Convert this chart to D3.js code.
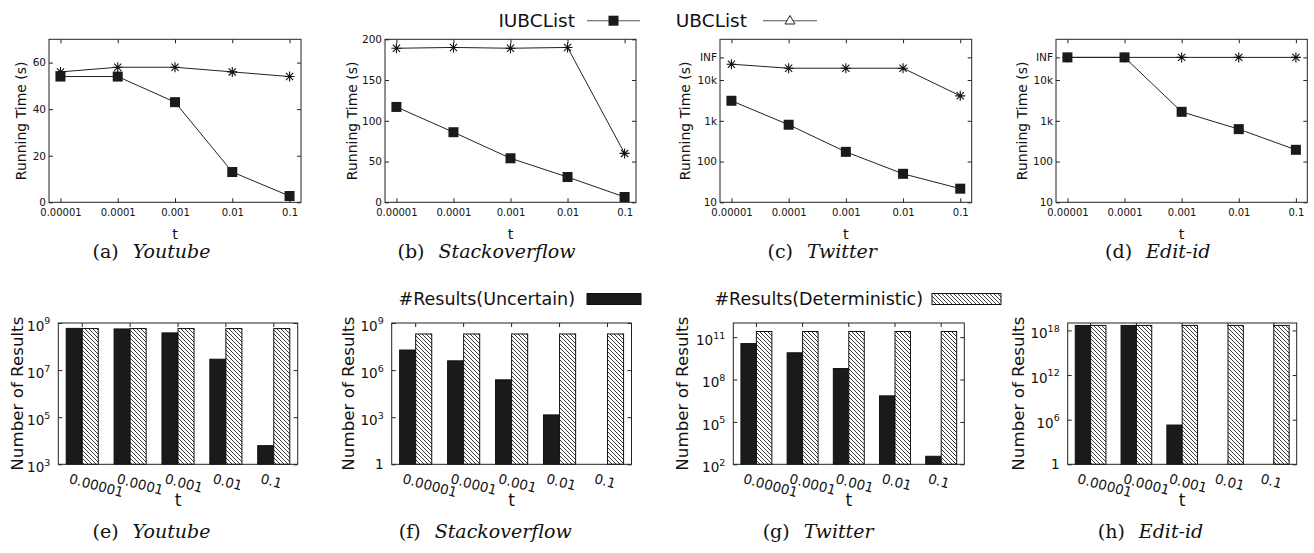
<!DOCTYPE html>
<html>
<head>
<meta charset="utf-8">
<script src="https://cdn.jsdelivr.net/npm/d3@7"></script>
<style>
  body { margin: 0; background: #fff; }
  svg { display: block; }
  text { font-family: "DejaVu Sans", sans-serif; fill: #111; }
  .cap { font-family: "DejaVu Serif", serif; }
</style>
</head>
<body>
<svg id="fig" width="1314" height="553"></svg>
<script>
// x categories (threshold t)
const tValues = ['0.00001', '0.0001', '0.001', '0.01', '0.1'];

// running time (s), top row
const INF = 36000;
const timeYoutubeIUBC = [54, 54, 43, 13, 2.7];
const timeYoutubeUBC = [56, 58, 58, 56, 54];
const timeStackIUBC = [117, 86, 54, 31, 6.5];
const timeStackUBC = [189, 190, 189, 190, 60];
const timeTwitterIUBC = [3100, 800, 173, 50, 21.6];
const timeTwitterUBC = [24500, 19500, 19500, 19500, 4100];
const timeEditIUBC = [INF, INF, 1660, 624, 194];
const timeEditUBC = [INF, INF, INF, INF, INF];

const youtubeTimeTicks = [0, 20, 40, 60];
const stackTimeTicks = [0, 50, 100, 150, 200];
const logTimeTicks = [10, 100, 1000, 10000, INF];
const logTimeTickLabels = ['10', '100', '1k', '10k', 'INF'];

// number of results, bottom row (null = no bar)
const resYoutubeUnc = [5.9e8, 5.6e8, 3.8e8, 2.9e7, 6.2e3];
const resYoutubeDet = [5.8e8, 5.8e8, 5.8e8, 5.8e8, 5.8e8];
const resStackUnc = [1.9e7, 3.9e6, 2.4e5, 1.4e3, null];
const resStackDet = [2e8, 2e8, 2e8, 2e8, 2e8];
const resTwitterUnc = [3.5e10, 7.8e9, 6e8, 7e6, 370];
const resTwitterDet = [2.5e11, 2.5e11, 2.5e11, 2.5e11, 2.5e11];
const resEditUnc = [4.7e18, 4.7e18, 1.9e5, null, null];
const resEditDet = [4.7e18, 4.7e18, 4.7e18, 4.7e18, 4.7e18];

const youtubeResTicks = [1e3, 1e5, 1e7, 1e9];
const stackResTicks = [1, 1e3, 1e6, 1e9];
const twitterResTicks = [1e2, 1e5, 1e8, 1e11];
const editResTicks = [1, 1e6, 1e12, 1e18];

const svg = d3.select('#fig');
const ink = '#1a1a1a';

// hatch pattern for deterministic bars
const defs = svg.append('defs');
const pat = defs.append('pattern')
  .attr('id', 'hatch')
  .attr('patternUnits', 'userSpaceOnUse')
  .attr('width', 4).attr('height', 4);
pat.append('rect').attr('width', 4).attr('height', 4).attr('fill', '#fff');
pat.append('path')
  .attr('d', 'M-1,-1L5,5M3,-1L5,1M-1,3L1,5')
  .attr('stroke', '#222').attr('stroke-width', 0.9);

const starPath = 'M-5,0H5M0,-5V5M-3.6,-3.6L3.6,3.6M-3.6,3.6L3.6,-3.6';

function caption(cx, y, tag, name) {
  const t = svg.append('text').attr('class', 'cap')
    .attr('x', cx).attr('y', y)
    .attr('text-anchor', 'middle')
    .attr('font-size', 19);
  t.append('tspan').text(tag);
  t.append('tspan').attr('dx', 14).attr('font-style', 'italic').text(name);
}

// ---------- top row: running time ----------
const TOP_Y0 = 39.3, TOP_Y1 = 202.3;

const topPanels = [
  { x0: 49, x1: 301, iubc: timeYoutubeIUBC, ubc: timeYoutubeUBC, log: false, domain: [0, 70], ticks: youtubeTimeTicks, labels: null, titleOff: 28.3, tag: '(a)', name: 'Youtube' },
  { x0: 385, x1: 636, iubc: timeStackIUBC, ubc: timeStackUBC, log: false, domain: [0, 200], ticks: stackTimeTicks, labels: null, titleOff: 33.3, tag: '(b)', name: 'Stackoverflow' },
  { x0: 720, x1: 971.7, iubc: timeTwitterIUBC, ubc: timeTwitterUBC, log: true, domain: [10, 1e5], ticks: logTimeTicks, labels: logTimeTickLabels, titleOff: 35, tag: '(c)', name: 'Twitter' },
  { x0: 1056, x1: 1307.3, iubc: timeEditIUBC, ubc: timeEditUBC, log: true, domain: [10, 1e5], ticks: logTimeTicks, labels: logTimeTickLabels, titleOff: 34.3, tag: '(d)', name: 'Edit-id' }
];

topPanels.forEach(p => {
  const g = svg.append('g');
  const x = d3.scalePoint().domain(tValues).range([p.x0, p.x1]).padding(0.2);
  const y = (p.log ? d3.scaleLog() : d3.scaleLinear()).domain(p.domain).range([TOP_Y1, TOP_Y0]);
  const fmt = p.labels ? (d, i) => p.labels[i] : d => d;

  g.append('g').attr('transform', `translate(${p.x0},0)`)
    .call(d3.axisLeft(y).tickValues(p.ticks).tickFormat(fmt).tickSize(-4).tickPadding(3))
    .call(a => a.select('.domain').remove())
    .call(a => a.selectAll('text').attr('font-size', 10.5).attr('font-family', null));
  g.append('g').attr('transform', `translate(${p.x1},0)`)
    .call(d3.axisRight(y).tickValues(p.ticks).tickFormat('').tickSize(-4))
    .call(a => a.select('.domain').remove());
  g.append('g').attr('transform', `translate(0,${TOP_Y1})`)
    .call(d3.axisBottom(x).tickSize(-4).tickPadding(6.5))
    .call(a => a.select('.domain').remove())
    .call(a => a.selectAll('text').attr('font-size', 10).attr('font-family', null));
  g.append('g').attr('transform', `translate(0,${TOP_Y0})`)
    .call(d3.axisTop(x).tickFormat('').tickSize(-4))
    .call(a => a.select('.domain').remove());
  g.selectAll('.tick line').attr('stroke', '#222');

  g.append('rect')
    .attr('x', p.x0).attr('y', TOP_Y0)
    .attr('width', p.x1 - p.x0).attr('height', TOP_Y1 - TOP_Y0)
    .attr('fill', 'none').attr('stroke', '#222').attr('stroke-width', 1);

  const line = d3.line().x((d, i) => x(tValues[i])).y(d => y(d));

  g.append('path').datum(p.ubc).attr('d', line)
    .attr('fill', 'none').attr('stroke', '#222').attr('stroke-width', 1);
  g.selectAll('.star').data(p.ubc).enter().append('path')
    .attr('transform', (d, i) => `translate(${x(tValues[i])},${y(d)})`)
    .attr('d', starPath).attr('stroke', '#111').attr('stroke-width', 1.1).attr('fill', 'none');

  g.append('path').datum(p.iubc).attr('d', line)
    .attr('fill', 'none').attr('stroke', '#222').attr('stroke-width', 1);
  g.selectAll('.sq').data(p.iubc).enter().append('rect')
    .attr('x', (d, i) => x(tValues[i]) - 5).attr('y', d => y(d) - 5)
    .attr('width', 10).attr('height', 10).attr('fill', ink);

  g.append('text')
    .attr('transform', `translate(${p.x0 - p.titleOff},${(TOP_Y0 + TOP_Y1) / 2}) rotate(-90)`)
    .attr('text-anchor', 'middle').attr('dominant-baseline', 'central')
    .attr('font-size', 14).text('Running Time (s)');
  g.append('text')
    .attr('x', (p.x0 + p.x1) / 2).attr('y', 238.5)
    .attr('text-anchor', 'middle').attr('font-size', 14.5).text('t');

  caption(p.x1 - 149.5, 258, p.tag, p.name);
});

// top legend
const lg = svg.append('g').attr('font-size', 18.5);
lg.append('text').attr('x', 575).attr('y', 20.7).attr('dominant-baseline', 'central')
  .attr('text-anchor', 'end').text('IUBCList');
lg.append('line').attr('x1', 587).attr('x2', 640).attr('y1', 20.7).attr('y2', 20.7)
  .attr('stroke', '#555').attr('stroke-width', 1.1);
lg.append('rect').attr('x', 608.5).attr('y', 15.7).attr('width', 10).attr('height', 10).attr('fill', ink);
lg.append('text').attr('x', 747).attr('y', 20.7).attr('dominant-baseline', 'central')
  .attr('text-anchor', 'end').text('UBCList');
lg.append('line').attr('x1', 763).attr('x2', 817).attr('y1', 20.7).attr('y2', 20.7)
  .attr('stroke', '#555').attr('stroke-width', 1.1);
lg.append('path').attr('d', 'M790,15.5L795,24L785,24Z')
  .attr('fill', '#fff').attr('stroke', '#222').attr('stroke-width', 1);

// ---------- bottom row: number of results ----------
const BOT_Y0 = 323, BOT_Y1 = 464.3;

const botPanels = [
  { x0: 58.3, x1: 297.7, unc: resYoutubeUnc, det: resYoutubeDet, domain: [1e3, 1e9], ticks: youtubeResTicks, titleOff: 41.6, tag: '(e)', name: 'Youtube' },
  { x0: 391.7, x1: 631.5, unc: resStackUnc, det: resStackDet, domain: [1, 1e9], ticks: stackResTicks, titleOff: 43.4, tag: '(f)', name: 'Stackoverflow' },
  { x0: 733.3, x1: 964.3, unc: resTwitterUnc, det: resTwitterDet, domain: [1e2, 1e12], ticks: twitterResTicks, titleOff: 51.6, tag: '(g)', name: 'Twitter' },
  { x0: 1067.7, x1: 1296.7, unc: resEditUnc, det: resEditDet, domain: [1, 1e19], ticks: editResTicks, titleOff: 49.4, tag: '(h)', name: 'Edit-id' }
];

botPanels.forEach(p => {
  const g = svg.append('g');
  const x = d3.scaleBand().domain(tValues).range([p.x0, p.x1]).padding(0);
  const sub = d3.scaleBand().domain(['unc', 'det']).range([-0.335 * x.step(), 0.335 * x.step()]);
  const y = d3.scaleLog().domain(p.domain).range([BOT_Y1, BOT_Y0]);

  g.append('g').attr('transform', `translate(${p.x0},0)`)
    .call(d3.axisLeft(y).tickValues(p.ticks).tickSize(-4).tickPadding(8))
    .call(a => a.select('.domain').remove())
    .call(a => a.selectAll('text').attr('font-size', 13.5).attr('font-family', null)
      .each(function (d) {
        const t = d3.select(this).text('');
        if (d === 1) { t.text('1'); return; }
        t.attr('dy', '0.55em');
        t.append('tspan').text('10');
        t.append('tspan').attr('dy', -6.5).attr('font-size', 9.5).text(Math.round(Math.log10(d)));
      }));
  g.append('g').attr('transform', `translate(${p.x1},0)`)
    .call(d3.axisRight(y).tickValues(p.ticks).tickFormat('').tickSize(-4))
    .call(a => a.select('.domain').remove());
  g.append('g').attr('transform', `translate(0,${BOT_Y1})`)
    .call(d3.axisBottom(x).tickSize(-4))
    .call(a => a.select('.domain').remove())
    .call(a => a.selectAll('text').attr('font-size', 13.5).attr('font-family', null)
      .attr('text-anchor', 'start').attr('x', 0).attr('y', 0).attr('dy', 0)
      .attr('transform', 'translate(-14,18.5) rotate(15)'));
  g.append('g').attr('transform', `translate(0,${BOT_Y0})`)
    .call(d3.axisTop(x).tickFormat('').tickSize(-4))
    .call(a => a.select('.domain').remove());
  g.selectAll('.tick line').attr('stroke', '#222');

  const cx = d => x(d) + x.bandwidth() / 2;

  g.selectAll('.unc').data(p.unc.map((v, i) => [tValues[i], v]).filter(d => d[1] != null))
    .enter().append('rect')
    .attr('x', d => cx(d[0]) + sub('unc')).attr('width', sub.bandwidth())
    .attr('y', d => y(d[1])).attr('height', d => BOT_Y1 - y(d[1]))
    .attr('fill', ink).attr('stroke', '#111').attr('stroke-width', 1);
  g.selectAll('.det').data(p.det.map((v, i) => [tValues[i], v]).filter(d => d[1] != null))
    .enter().append('rect')
    .attr('x', d => cx(d[0]) + sub('det')).attr('width', sub.bandwidth())
    .attr('y', d => y(d[1])).attr('height', d => BOT_Y1 - y(d[1]))
    .attr('fill', 'url(#hatch)').attr('stroke', '#111').attr('stroke-width', 1);

  g.append('rect')
    .attr('x', p.x0).attr('y', BOT_Y0)
    .attr('width', p.x1 - p.x0).attr('height', BOT_Y1 - BOT_Y0)
    .attr('fill', 'none').attr('stroke', '#222').attr('stroke-width', 1);

  g.append('text')
    .attr('transform', `translate(${p.x0 - p.titleOff},${(BOT_Y0 + BOT_Y1) / 2}) rotate(-90)`)
    .attr('text-anchor', 'middle').attr('dominant-baseline', 'central')
    .attr('font-size', 16.7).text('Number of Results');
  g.append('text')
    .attr('x', (p.x0 + p.x1) / 2).attr('y', 506)
    .attr('text-anchor', 'middle').attr('font-size', 17).text('t');

  caption(p.x1 - 146.2, 538, p.tag, p.name);
});

// bottom legend
const bl = svg.append('g').attr('font-size', 17.5);
bl.append('text').attr('x', 575).attr('y', 299).attr('dominant-baseline', 'central')
  .attr('text-anchor', 'end').text('#Results(Uncertain)');
bl.append('rect').attr('x', 587).attr('y', 293.5).attr('width', 54).attr('height', 11)
  .attr('fill', ink).attr('stroke', '#111');
bl.append('text').attr('x', 923).attr('y', 299).attr('dominant-baseline', 'central')
  .attr('text-anchor', 'end').text('#Results(Deterministic)');
bl.append('rect').attr('x', 932).attr('y', 293.5).attr('width', 69).attr('height', 11)
  .attr('fill', 'url(#hatch)').attr('stroke', '#111');
</script>
</body>
</html>
